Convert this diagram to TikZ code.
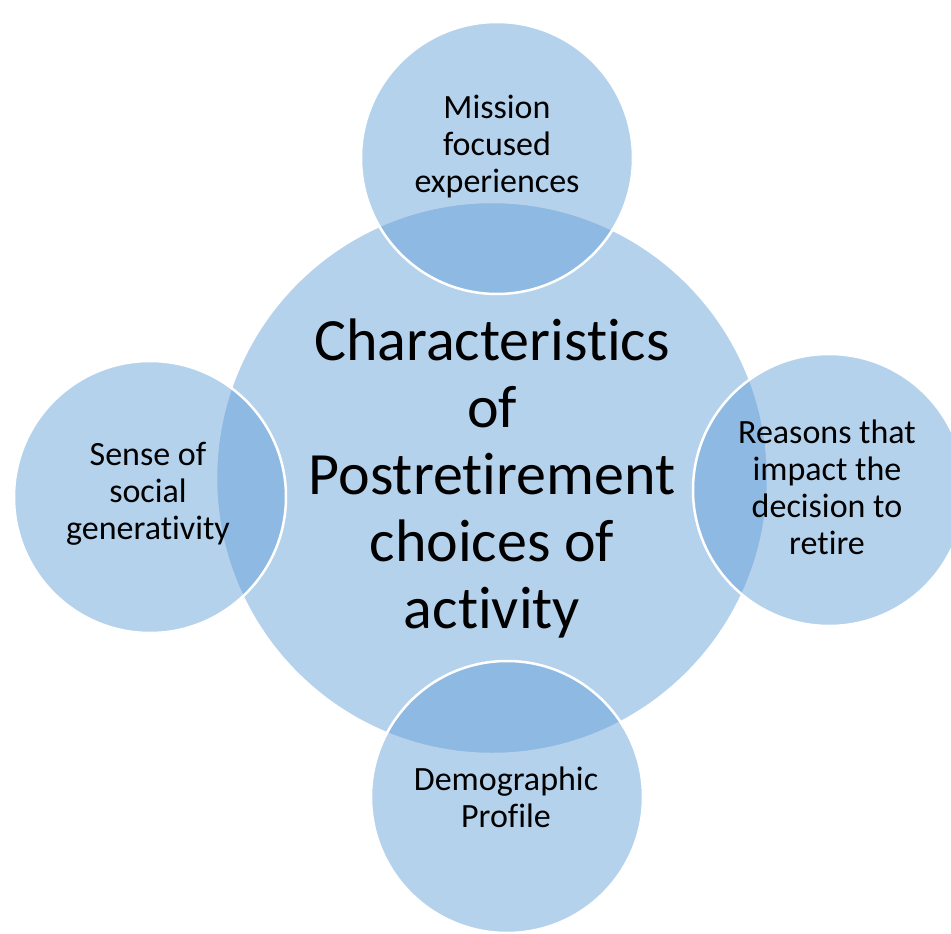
\documentclass[tikz,border=0pt]{standalone}
\usepackage{fontspec}
\setmainfont{Carlito}[Ligatures={NoCommon}]
\definecolor{venn}{RGB}{91,155,213}

\begin{document}
\begin{tikzpicture}[x=1pt, y=-1pt,
		bubble/.style = {shape=circle, draw=white, line width=2.5pt,
			fill=venn, fill opacity=0.45, inner sep=0pt},
		hub/.style = {bubble, minimum size=552pt},
		sat/.style = {bubble, minimum size=272pt},
		hubtext/.style = {align=center, text=black, font=\fontsize{60}{67}\selectfont},
		sattext/.style = {align=center, text=black, font=\fontsize{34}{37}\selectfont}]
		
		\useasboundingbox (0,0) rectangle (951,934);
		
		\node[hub] (core) at (492,478) {};
		\node[sat] (mission) at (497,158) {};
		\node[sat] (generativity) at (150,497) {};
		\node[sat] (reasons) at (829,490) {};
		\node[sat] (profile) at (507,797) {};
		
		\node[hubtext] (title) at (492,478) {Characteristics\\of\\Postretirement\\choices of\\activity};
		\node[sattext] (mission text) at (497,147) {Mission\\focused\\experiences};
		\node[sattext] (generativity text) at (148,494) {Sense of\\social\\generativity};
		\node[sattext] (reasons text) at (827,487) {Reasons that\\impact the\\decision to\\retire};
		\node[sattext] (profile text) at (506,797) {Demographic\\Profile};
	\end{tikzpicture}
\end{document}
